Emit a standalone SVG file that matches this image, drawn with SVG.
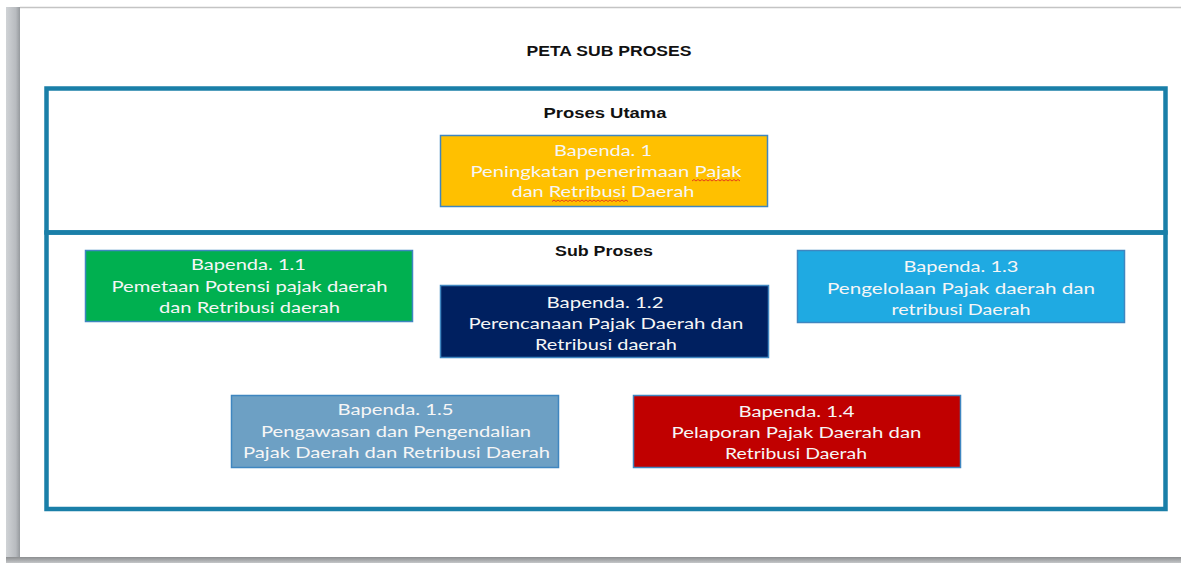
<svg xmlns="http://www.w3.org/2000/svg" width="1181" height="563" viewBox="0 0 1181 563">
<defs>
<linearGradient id="leftShade" x1="0" y1="0" x2="1" y2="0">
<stop offset="0" stop-color="#d0d3d6"/>
<stop offset="0.7" stop-color="#b8bbbf"/>
<stop offset="1" stop-color="#969a9e"/>
</linearGradient>
<linearGradient id="bottomShade" x1="0" y1="0" x2="0" y2="1">
<stop offset="0" stop-color="#8c8e90"/>
<stop offset="1" stop-color="#c4c6c8"/>
</linearGradient>
<style>
.frame{fill:none;stroke:#1a7fa8;stroke-width:4.5}
.box{stroke:#3f86c0;stroke-width:1.5}
.t{font-family:Lato,"Open Sans","Liberation Sans",sans-serif;font-size:16px;fill:#f6f6f6;text-anchor:middle}
.h{font-family:"Liberation Sans",Arial,sans-serif;font-weight:bold;font-size:14px;fill:#111;text-anchor:middle}
.spell{fill:none;stroke:#e02020;stroke-width:0.8}
</style>
</defs>
<rect x="0" y="0" width="1181" height="563" fill="#ffffff"/>
<rect x="6" y="7" width="14" height="556" fill="url(#leftShade)"/>
<line x1="20" y1="7.5" x2="1181" y2="7.5" stroke="#c4c4c4" stroke-width="1.5"/>
<rect x="6" y="557" width="1175" height="6" fill="url(#bottomShade)"/>

<text class="h" x="609" y="56" textLength="165" lengthAdjust="spacingAndGlyphs">PETA SUB PROSES</text>

<g id="frames">
<rect class="frame" x="46.5" y="88.5" width="1119" height="144"/>
<rect class="frame" x="46.5" y="232.5" width="1119" height="276.5"/>
<text class="h" x="605" y="118" textLength="123" lengthAdjust="spacingAndGlyphs">Proses Utama</text>
<text class="h" x="604" y="255.5" textLength="98" lengthAdjust="spacingAndGlyphs">Sub Proses</text>
</g>

<g id="node-bapenda-1">
<rect class="box" x="440.5" y="135.5" width="327" height="71" fill="#ffc000"/>
<text class="t" x="603" y="156" textLength="98" lengthAdjust="spacingAndGlyphs">Bapenda. 1</text>
<text class="t" x="606" y="177" textLength="271" lengthAdjust="spacingAndGlyphs">Peningkatan penerimaan Pajak</text>
<text class="t" x="603" y="197" textLength="183" lengthAdjust="spacingAndGlyphs">dan Retribusi Daerah</text>
<path class="spell" d="M692 181 l2-1.5 l2 1.5 l2-1.5 l2 1.5 l2-1.5 l2 1.5 l2-1.5 l2 1.5 l2-1.5 l2 1.5 l2-1.5 l2 1.5 l2-1.5 l2 1.5 l2-1.5 l2 1.5 l2-1.5 l2 1.5 l2-1.5 l2 1.5 l2-1.5 l2 1.5 l2-1.5 l2 1.5"/>
<path class="spell" d="M552 201.5 l2-1.5 l2 1.5 l2-1.5 l2 1.5 l2-1.5 l2 1.5 l2-1.5 l2 1.5 l2-1.5 l2 1.5 l2-1.5 l2 1.5 l2-1.5 l2 1.5 l2-1.5 l2 1.5 l2-1.5 l2 1.5 l2-1.5 l2 1.5 l2-1.5 l2 1.5 l2-1.5 l2 1.5 l2-1.5 l2 1.5 l2-1.5 l2 1.5 l2-1.5 l2 1.5 l2-1.5 l2 1.5 l2-1.5 l2 1.5 l2-1.5 l2 1.5 l2-1.5 l2 1.5"/>
</g>

<g id="node-bapenda-1-1">
<rect class="box" x="85.5" y="250.5" width="327" height="71" fill="#00b050"/>
<text class="t" x="248.5" y="270" textLength="115" lengthAdjust="spacingAndGlyphs">Bapenda. 1.1</text>
<text class="t" x="249.5" y="291.5" textLength="276" lengthAdjust="spacingAndGlyphs">Pemetaan Potensi pajak daerah</text>
<text class="t" x="249.5" y="313" textLength="181" lengthAdjust="spacingAndGlyphs">dan Retribusi daerah</text>
</g>

<g id="node-bapenda-1-2">
<rect class="box" x="440.5" y="285.5" width="328" height="72" fill="#002060"/>
<text class="t" x="605" y="308" textLength="117" lengthAdjust="spacingAndGlyphs">Bapenda. 1.2</text>
<text class="t" x="606" y="329" textLength="275" lengthAdjust="spacingAndGlyphs">Perencanaan Pajak Daerah dan</text>
<text class="t" x="606" y="350" textLength="142" lengthAdjust="spacingAndGlyphs">Retribusi daerah</text>
</g>

<g id="node-bapenda-1-3">
<rect class="box" x="797.5" y="250.5" width="327" height="72" fill="#1faae2"/>
<text class="t" x="961" y="272" textLength="115" lengthAdjust="spacingAndGlyphs">Bapenda. 1.3</text>
<text class="t" x="961" y="293.5" textLength="268" lengthAdjust="spacingAndGlyphs">Pengelolaan Pajak daerah dan</text>
<text class="t" x="961" y="315" textLength="139" lengthAdjust="spacingAndGlyphs">retribusi Daerah</text>
</g>

<g id="node-bapenda-1-5">
<rect class="box" x="231.5" y="395.5" width="327" height="72" fill="#6da0c4"/>
<text class="t" x="395.5" y="415" textLength="116" lengthAdjust="spacingAndGlyphs">Bapenda. 1.5</text>
<text class="t" x="396" y="436.5" textLength="270" lengthAdjust="spacingAndGlyphs">Pengawasan dan Pengendalian</text>
<text class="t" x="396.5" y="458" textLength="307" lengthAdjust="spacingAndGlyphs">Pajak Daerah dan Retribusi Daerah</text>
</g>

<g id="node-bapenda-1-4">
<rect class="box" x="633.5" y="395.5" width="327" height="72" fill="#c00000"/>
<text class="t" x="796.5" y="416.5" textLength="116" lengthAdjust="spacingAndGlyphs">Bapenda. 1.4</text>
<text class="t" x="796.5" y="438" textLength="250" lengthAdjust="spacingAndGlyphs">Pelaporan Pajak Daerah dan</text>
<text class="t" x="796" y="458.5" textLength="142" lengthAdjust="spacingAndGlyphs">Retribusi Daerah</text>
</g>

<g id="connectors"></g>
</svg>
